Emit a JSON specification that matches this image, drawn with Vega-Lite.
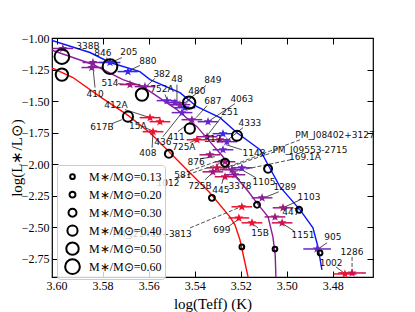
{
  "$schema": "https://vega.github.io/schema/vega-lite/v6.json",
  "width": 321,
  "height": 239,
  "autosize": {"type": "none"},
  "padding": {"left": 52, "top": 38, "right": 42, "bottom": 35},
  "config": {
    "view": {"stroke": "#000", "strokeWidth": 1.2},
    "axis": {"grid": false, "domain": false, "tickColor": "#000", "labelColor": "#000", "titleColor": "#000", "labelFont": "Liberation Serif", "titleFont": "Liberation Serif", "labelFontSize": 12, "titleFontSize": 15, "titleFontWeight": "normal", "tickSize": -6, "tickWidth": 1, "labelPadding": 9}
  },
  "datasets": {
    "iso": [
      {"iso": "a", "i": 1, "x": 3.602, "y": -1.020}, {"iso": "a", "i": 2, "x": 3.5855, "y": -1.115}, {"iso": "a", "i": 3, "x": 3.5768, "y": -1.194}, {"iso": "a", "i": 4, "x": 3.5638, "y": -1.266}, {"iso": "a", "i": 5, "x": 3.5594, "y": -1.329}, {"iso": "a", "i": 6, "x": 3.5464, "y": -1.433}, {"iso": "a", "i": 7, "x": 3.539, "y": -1.544}, {"iso": "a", "i": 8, "x": 3.529, "y": -1.631}, {"iso": "a", "i": 9, "x": 3.5216, "y": -1.75}, {"iso": "a", "i": 10, "x": 3.5116, "y": -1.885}, {"iso": "a", "i": 11, "x": 3.5086, "y": -1.988}, {"iso": "a", "i": 12, "x": 3.5029, "y": -2.179}, {"iso": "a", "i": 13, "x": 3.4942, "y": -2.361}, {"iso": "a", "i": 14, "x": 3.4886, "y": -2.504}, {"iso": "a", "i": 15, "x": 3.4864, "y": -2.655}, {"iso": "a", "i": 16, "x": 3.4847, "y": -2.837},
      {"iso": "b", "i": 1, "x": 3.602, "y": -1.097}, {"iso": "b", "i": 2, "x": 3.5842, "y": -1.21}, {"iso": "b", "i": 3, "x": 3.5712, "y": -1.329}, {"iso": "b", "i": 4, "x": 3.5625, "y": -1.385}, {"iso": "b", "i": 5, "x": 3.5477, "y": -1.567}, {"iso": "b", "i": 6, "x": 3.539, "y": -1.702}, {"iso": "b", "i": 7, "x": 3.5334, "y": -1.821}, {"iso": "b", "i": 8, "x": 3.5277, "y": -1.94}, {"iso": "b", "i": 9, "x": 3.5247, "y": -2.044}, {"iso": "b", "i": 10, "x": 3.5173, "y": -2.202}, {"iso": "b", "i": 11, "x": 3.5116, "y": -2.337}, {"iso": "b", "i": 12, "x": 3.5081, "y": -2.417}, {"iso": "b", "i": 13, "x": 3.506, "y": -2.575}, {"iso": "b", "i": 14, "x": 3.505, "y": -2.718}, {"iso": "b", "i": 15, "x": 3.5047, "y": -2.893},
      {"iso": "c", "i": 1, "x": 3.602, "y": -1.237}, {"iso": "c", "i": 2, "x": 3.5929, "y": -1.313}, {"iso": "c", "i": 3, "x": 3.5812, "y": -1.464}, {"iso": "c", "i": 4, "x": 3.5694, "y": -1.607}, {"iso": "c", "i": 5, "x": 3.5594, "y": -1.75}, {"iso": "c", "i": 6, "x": 3.5507, "y": -1.909}, {"iso": "c", "i": 7, "x": 3.5434, "y": -2.044}, {"iso": "c", "i": 8, "x": 3.5334, "y": -2.226}, {"iso": "c", "i": 9, "x": 3.5247, "y": -2.417}, {"iso": "c", "i": 10, "x": 3.5225, "y": -2.48}, {"iso": "c", "i": 11, "x": 3.5203, "y": -2.6}, {"iso": "c", "i": 12, "x": 3.5168, "y": -2.893}
    ],
    "stars": [
      {"x": 3.5973, "y": -1.083, "ex": 0.0045, "ey": 0.02, "g": "p"},
      {"x": 3.5842, "y": -1.194, "ex": 0.0045, "ey": 0.02, "g": "p"},
      {"x": 3.5847, "y": -1.234, "ex": 0.0045, "ey": 0.02, "g": "p"},
      {"x": 3.5768, "y": -1.194, "ex": 0.0045, "ey": 0.02, "g": "b"},
      {"x": 3.5690, "y": -1.266, "ex": 0.0045, "ey": 0.02, "g": "b"},
      {"x": 3.5681, "y": -1.369, "ex": 0.0045, "ey": 0.02, "g": "m"},
      {"x": 3.5616, "y": -1.385, "ex": 0.0045, "ey": 0.02, "g": "p"},
      {"x": 3.5520, "y": -1.496, "ex": 0.0045, "ey": 0.02, "g": "v"},
      {"x": 3.5486, "y": -1.512, "ex": 0.0045, "ey": 0.02, "g": "v"},
      {"x": 3.5464, "y": -1.528, "ex": 0.0045, "ey": 0.02, "g": "p"},
      {"x": 3.5442, "y": -1.552, "ex": 0.0045, "ey": 0.02, "g": "b"},
      {"x": 3.5455, "y": -1.591, "ex": 0.0045, "ey": 0.02, "g": "v"},
      {"x": 3.5412, "y": -1.647, "ex": 0.0045, "ey": 0.02, "g": "p"},
      {"x": 3.5342, "y": -1.663, "ex": 0.0045, "ey": 0.02, "g": "v"},
      {"x": 3.5277, "y": -1.758, "ex": 0.0045, "ey": 0.02, "g": "b"},
      {"x": 3.5346, "y": -1.782, "ex": 0.0045, "ey": 0.02, "g": "p"},
      {"x": 3.5290, "y": -1.806, "ex": 0.0045, "ey": 0.02, "g": "m"},
      {"x": 3.5260, "y": -1.821, "ex": 0.0045, "ey": 0.02, "g": "v"},
      {"x": 3.5277, "y": -1.885, "ex": 0.0045, "ey": 0.02, "g": "v"},
      {"x": 3.5334, "y": -1.925, "ex": 0.0045, "ey": 0.02, "g": "m"},
      {"x": 3.5268, "y": -1.980, "ex": 0.0045, "ey": 0.02, "g": "m"},
      {"x": 3.5303, "y": -2.028, "ex": 0.0045, "ey": 0.02, "g": "c"},
      {"x": 3.5238, "y": -2.044, "ex": 0.0045, "ey": 0.02, "g": "p"},
      {"x": 3.5195, "y": -2.028, "ex": 0.0045, "ey": 0.02, "g": "v"},
      {"x": 3.5268, "y": -2.099, "ex": 0.0045, "ey": 0.02, "g": "c"},
      {"x": 3.5225, "y": -2.083, "ex": 0.0045, "ey": 0.02, "g": "p"},
      {"x": 3.5321, "y": -2.060, "ex": 0.0045, "ey": 0.02, "g": "m"},
      {"x": 3.5390, "y": -1.806, "ex": 0.0045, "ey": 0.02, "g": "r"},
      {"x": 3.5594, "y": -1.631, "ex": 0.0045, "ey": 0.02, "g": "r"},
      {"x": 3.5551, "y": -1.663, "ex": 0.0045, "ey": 0.02, "g": "r"},
      {"x": 3.5581, "y": -1.742, "ex": 0.0045, "ey": 0.02, "g": "r"},
      {"x": 3.5107, "y": -2.266, "ex": 0.0045, "ey": 0.02, "g": "p"},
      {"x": 3.5195, "y": -2.337, "ex": 0.0045, "ey": 0.02, "g": "r"},
      {"x": 3.5208, "y": -2.425, "ex": 0.0045, "ey": 0.02, "g": "r"},
      {"x": 3.5151, "y": -2.464, "ex": 0.0045, "ey": 0.02, "g": "r"},
      {"x": 3.5016, "y": -2.345, "ex": 0.0045, "ey": 0.02, "g": "m"},
      {"x": 3.5051, "y": -2.417, "ex": 0.0045, "ey": 0.02, "g": "m"},
      {"x": 3.5020, "y": -2.464, "ex": 0.0045, "ey": 0.02, "g": "c"},
      {"x": 3.4868, "y": -2.671, "ex": 0.006, "ey": 0.02, "g": "v"},
      {"x": 3.4747, "y": -2.869, "ex": 0.005, "ey": 0.02, "g": "r"},
      {"x": 3.4716, "y": -2.861, "ex": 0.006, "ey": 0.02, "g": "c"}
    ],
    "masses": [
      {"iso": "a", "m": 0.60, "x": 3.5768, "y": -1.226}, {"iso": "a", "m": 0.50, "x": 3.5424, "y": -1.512}, {"iso": "a", "m": 0.40, "x": 3.5216, "y": -1.774}, {"iso": "a", "m": 0.30, "x": 3.5081, "y": -2.036}, {"iso": "a", "m": 0.20, "x": 3.4946, "y": -2.361}, {"iso": "a", "m": 0.13, "x": 3.4855, "y": -2.702},
      {"iso": "b", "m": 0.60, "x": 3.5977, "y": -1.147}, {"iso": "b", "m": 0.50, "x": 3.5629, "y": -1.448}, {"iso": "b", "m": 0.40, "x": 3.5421, "y": -1.718}, {"iso": "b", "m": 0.30, "x": 3.5268, "y": -1.988}, {"iso": "b", "m": 0.20, "x": 3.5129, "y": -2.321}, {"iso": "b", "m": 0.13, "x": 3.5051, "y": -2.671},
      {"iso": "c", "m": 0.50, "x": 3.5977, "y": -1.290}, {"iso": "c", "m": 0.40, "x": 3.5690, "y": -1.623}, {"iso": "c", "m": 0.30, "x": 3.5512, "y": -1.917}, {"iso": "c", "m": 0.20, "x": 3.5325, "y": -2.266}, {"iso": "c", "m": 0.13, "x": 3.5195, "y": -2.655}
    ],
    "labels": [
      {"name": "338B", "tx": 3.5864, "ty": -1.067, "link": "none"},
      {"name": "846", "tx": 3.5799, "ty": -1.115, "ax": 3.5786, "ay": -1.155, "sx": 3.5766, "sy": -1.187, "link": "solid"},
      {"name": "205", "tx": 3.5686, "ty": -1.107, "ax": 3.5716, "ay": -1.155, "sx": 3.5755, "sy": -1.187, "link": "solid"},
      {"name": "880", "tx": 3.5603, "ty": -1.179, "ax": 3.5638, "ay": -1.218, "sx": 3.5686, "sy": -1.258, "link": "solid"},
      {"name": "514", "tx": 3.5768, "ty": -1.353, "ax": 3.5733, "ay": -1.361, "sx": 3.5690, "sy": -1.369, "link": "solid"},
      {"name": "382", "tx": 3.5542, "ty": -1.282, "ax": 3.5573, "ay": -1.321, "sx": 3.5607, "sy": -1.377, "link": "solid"},
      {"name": "752A", "tx": 3.5542, "ty": -1.401, "ax": 3.5529, "ay": -1.448, "sx": 3.5520, "sy": -1.488, "link": "solid"},
      {"name": "48", "tx": 3.5477, "ty": -1.321, "ax": 3.5477, "ay": -1.369, "sx": 3.5477, "sy": -1.496, "link": "solid"},
      {"name": "849", "tx": 3.5321, "ty": -1.329, "ax": 3.5351, "ay": -1.377, "sx": 3.5442, "sy": -1.512, "link": "solid"},
      {"name": "480", "tx": 3.5390, "ty": -1.417, "ax": 3.5407, "ay": -1.456, "sx": 3.5442, "sy": -1.528, "link": "solid"},
      {"name": "687", "tx": 3.5321, "ty": -1.496, "ax": 3.5346, "ay": -1.536, "sx": 3.5394, "sy": -1.631, "link": "solid"},
      {"name": "4063", "tx": 3.5195, "ty": -1.480, "ax": 3.5225, "ay": -1.520, "sx": 3.5342, "sy": -1.663, "link": "solid"},
      {"name": "251", "tx": 3.5247, "ty": -1.583, "ax": 3.5282, "ay": -1.623, "sx": 3.5346, "sy": -1.774, "link": "solid"},
      {"name": "4333", "tx": 3.5160, "ty": -1.671, "ax": 3.5190, "ay": -1.710, "sx": 3.5255, "sy": -1.806, "link": "solid"},
      {"name": "1148", "tx": 3.5142, "ty": -1.909, "ax": 3.5195, "ay": -1.885, "sx": 3.5264, "sy": -1.845, "link": "solid"},
      {"name": "410", "tx": 3.5833, "ty": -1.440, "ax": 3.5833, "ay": -1.393, "sx": 3.5842, "sy": -1.234, "link": "solid"},
      {"name": "412A", "tx": 3.5742, "ty": -1.528, "ax": 3.5703, "ay": -1.567, "sx": 3.5594, "sy": -1.631, "link": "solid"},
      {"name": "617B", "tx": 3.5803, "ty": -1.702, "ax": 3.5760, "ay": -1.679, "sx": 3.5716, "sy": -1.647, "link": "solid"},
      {"name": "15A", "tx": 3.5647, "ty": -1.694, "ax": 3.5616, "ay": -1.710, "sx": 3.5585, "sy": -1.734, "link": "solid"},
      {"name": "408", "tx": 3.5603, "ty": -1.909, "ax": 3.5585, "ay": -1.869, "sx": 3.5581, "sy": -1.742, "link": "solid"},
      {"name": "436", "tx": 3.5538, "ty": -1.821, "ax": 3.5538, "ay": -1.782, "sx": 3.5455, "sy": -1.591, "link": "solid"},
      {"name": "411", "tx": 3.5481, "ty": -1.782, "ax": 3.5473, "ay": -1.742, "sx": 3.5412, "sy": -1.655, "link": "solid"},
      {"name": "725A", "tx": 3.5447, "ty": -1.861, "ax": 3.5421, "ay": -1.829, "sx": 3.5394, "sy": -1.806, "link": "solid"},
      {"name": "317", "tx": 3.5321, "ty": -1.798, "link": "none"},
      {"name": "876", "tx": 3.5394, "ty": -1.985, "ax": 3.5377, "ay": -1.956, "sx": 3.5312, "sy": -1.940, "link": "solid"},
      {"name": "581", "tx": 3.5451, "ty": -2.083, "ax": 3.5421, "ay": -2.052, "sx": 3.5282, "sy": -1.964, "link": "dashed"},
      {"name": "1012", "tx": 3.5516, "ty": -2.147, "ax": 3.5481, "ay": -2.115, "sx": 3.5282, "sy": -1.988, "link": "dashed"},
      {"name": "725B", "tx": 3.5377, "ty": -2.171, "ax": 3.5355, "ay": -2.123, "sx": 3.5299, "sy": -2.028, "link": "solid"},
      {"name": "445", "tx": 3.5286, "ty": -2.202, "ax": 3.5282, "ay": -2.155, "sx": 3.5273, "sy": -2.099, "link": "solid"},
      {"name": "3378", "tx": 3.5203, "ty": -2.171, "ax": 3.5203, "ay": -2.123, "sx": 3.5229, "sy": -2.083, "link": "solid"},
      {"name": "1105", "tx": 3.5099, "ty": -2.139, "ax": 3.5134, "ay": -2.107, "sx": 3.5195, "sy": -2.044, "link": "solid"},
      {"name": "1289", "tx": 3.5008, "ty": -2.179, "ax": 3.5034, "ay": -2.218, "sx": 3.5099, "sy": -2.266, "link": "solid"},
      {"name": "1103", "tx": 3.4903, "ty": -2.258, "ax": 3.4942, "ay": -2.282, "sx": 3.5016, "sy": -2.345, "link": "solid"},
      {"name": "447", "tx": 3.4982, "ty": -2.377, "link": "none"},
      {"name": "1151", "tx": 3.4929, "ty": -2.560, "ax": 3.4969, "ay": -2.528, "sx": 3.5016, "sy": -2.472, "link": "solid"},
      {"name": "905", "tx": 3.4799, "ty": -2.575, "ax": 3.4825, "ay": -2.623, "sx": 3.4864, "sy": -2.671, "link": "solid"},
      {"name": "1002", "tx": 3.4807, "ty": -2.782, "ax": 3.4786, "ay": -2.813, "sx": 3.4751, "sy": -2.861, "link": "solid"},
      {"name": "1286", "tx": 3.4716, "ty": -2.694, "ax": 3.4716, "ay": -2.734, "sx": 3.4716, "sy": -2.853, "link": "dashed"},
      {"name": "15B", "tx": 3.5116, "ty": -2.544, "ax": 3.5125, "ay": -2.504, "sx": 3.5147, "sy": -2.472, "link": "solid"},
      {"name": "699", "tx": 3.5282, "ty": -2.520, "ax": 3.5255, "ay": -2.496, "sx": 3.5208, "sy": -2.433, "link": "solid"},
      {"name": "PM_J08402+3127", "tx": 3.4790, "ty": -1.766, "ax": 3.4942, "ay": -1.806, "sx": 3.5312, "sy": -2.060, "link": "dashed"},
      {"name": "PM_J09553-2715", "tx": 3.4899, "ty": -1.885, "ax": 3.5051, "ay": -1.901, "sx": 3.5312, "sy": -2.060, "link": "dashed"},
      {"name": "169.1A", "tx": 3.4921, "ty": -1.940, "ax": 3.4982, "ay": -1.964, "sx": 3.5234, "sy": -2.060, "link": "dashed"},
      {"name": "PM_J21463+3813", "tx": 3.5585, "ty": -2.552, "ax": 3.5420, "ay": -2.504, "sx": 3.5199, "sy": -2.337, "link": "dashed"}
    ]
  },
  "resolve": {"axis": {"x": "independent", "y": "independent"}},
  "layer": [
    {
      "data": {"name": "iso"},
      "mark": {"type": "line", "strokeWidth": 1.4, "clip": true},
      "encoding": {
        "x": {"field": "x", "type": "quantitative", "scale": {"domain": [3.4625, 3.602], "reverse": true, "zero": false, "nice": false},
              "axis": {"orient": "bottom", "values": [3.48, 3.5, 3.52, 3.54, 3.56, 3.58, 3.6], "format": ".2f", "title": "log(Teff) (K)", "titlePadding": 5}},
        "y": {"field": "y", "type": "quantitative", "scale": {"domain": [-2.893, -1.0], "zero": false, "nice": false},
              "axis": {"orient": "left", "values": [-2.75, -2.5, -2.25, -2.0, -1.75, -1.5, -1.25, -1.0], "format": ".2f", "title": "log(L∗/L⊙)", "titlePadding": -3}},
        "stroke": {"field": "iso", "type": "nominal", "scale": {"domain": ["a", "b", "c"], "range": ["#0a14ff", "#8e1a9e", "#ff0a0a"]}, "legend": null},
        "order": {"field": "i", "type": "quantitative"}
      }
    },
    {
      "data": {"name": "labels"},
      "transform": [{"filter": "datum.link == 'solid'"}],
      "mark": {"type": "rule", "color": "#222", "strokeWidth": 0.8},
      "encoding": {
        "x": {"field": "ax", "type": "quantitative", "axis": null},
        "y": {"field": "ay", "type": "quantitative", "axis": null},
        "x2": {"field": "sx"},
        "y2": {"field": "sy"}
      }
    },
    {
      "data": {"name": "labels"},
      "transform": [{"filter": "datum.link == 'dashed'"}],
      "mark": {"type": "rule", "color": "#222", "strokeWidth": 0.8, "strokeDash": [4, 2]},
      "encoding": {
        "x": {"field": "ax", "type": "quantitative", "axis": null},
        "y": {"field": "ay", "type": "quantitative", "axis": null},
        "x2": {"field": "sx"},
        "y2": {"field": "sy"}
      }
    },
    {
      "data": {"name": "stars"},
      "mark": {"type": "errorbar", "thickness": 1.5},
      "encoding": {
        "x": {"field": "x", "type": "quantitative", "axis": null},
        "xError": {"field": "ex"},
        "y": {"field": "y", "type": "quantitative", "axis": null},
        "color": {"field": "g", "type": "nominal", "scale": {"domain": ["r", "c", "m", "p", "v", "b"], "range": ["#ee1030", "#cc1050", "#a0187a", "#88209a", "#6a24c8", "#3828ee"]}, "legend": null}
      }
    },
    {
      "data": {"name": "stars"},
      "mark": {"type": "errorbar", "thickness": 1.5},
      "encoding": {
        "y": {"field": "y", "type": "quantitative", "axis": null},
        "yError": {"field": "ey"},
        "x": {"field": "x", "type": "quantitative", "axis": null},
        "color": {"field": "g", "type": "nominal", "legend": null}
      }
    },
    {
      "data": {"name": "stars"},
      "mark": {"type": "point", "filled": true, "opacity": 1, "size": 90, "shape": "M0,-1L0.2245,-0.309L0.951,-0.309L0.3633,0.118L0.5878,0.809L0,0.382L-0.5878,0.809L-0.3633,0.118L-0.951,-0.309L-0.2245,-0.309Z"},
      "encoding": {
        "x": {"field": "x", "type": "quantitative", "axis": null},
        "y": {"field": "y", "type": "quantitative", "axis": null},
        "color": {"field": "g", "type": "nominal", "legend": null}
      }
    },
    {
      "data": {"name": "labels"},
      "mark": {"type": "text", "font": "DejaVu Sans", "fontSize": 9, "color": "#111", "align": "center", "baseline": "middle"},
      "encoding": {
        "x": {"field": "tx", "type": "quantitative", "axis": null},
        "y": {"field": "ty", "type": "quantitative", "axis": null},
        "text": {"field": "name"}
      }
    },
    {
      "data": {"name": "masses"},
      "mark": {"type": "point", "filled": false, "color": "#000", "strokeWidth": 2, "opacity": 1, "shape": "circle"},
      "encoding": {
        "x": {"field": "x", "type": "quantitative", "axis": {"orient": "top", "labels": false, "title": null, "values": [3.48, 3.5, 3.52, 3.54, 3.56, 3.58, 3.6]}},
        "y": {"field": "y", "type": "quantitative", "axis": {"orient": "right", "labels": false, "title": null, "values": [-2.75, -2.5, -2.25, -2.0, -1.75, -1.5, -1.25, -1.0]}},
        "size": {"field": "m", "type": "quantitative", "scale": {"type": "pow", "exponent": 2, "domain": [0.13, 0.6], "range": [22, 216], "zero": false},
          "legend": {"orient": "none", "legendX": 5, "legendY": 127, "title": null, "values": [0.13, 0.2, 0.3, 0.4, 0.5, 0.6], "padding": 3, "rowPadding": 0, "clipHeight": 17.3, "fillColor": "rgba(255,255,255,0.8)", "strokeColor": "#cccccc", "cornerRadius": 3, "labelFont": "Liberation Serif", "labelFontSize": 12, "labelColor": "#000", "symbolStrokeWidth": 2, "symbolStrokeColor": "#000", "symbolType": "circle", "symbolOffset": 4, "labelOffset": 8, "labelExpr": "'M∗/M⊙=' + format(datum.value, '.2f')"}}
      }
    }
  ]
}
